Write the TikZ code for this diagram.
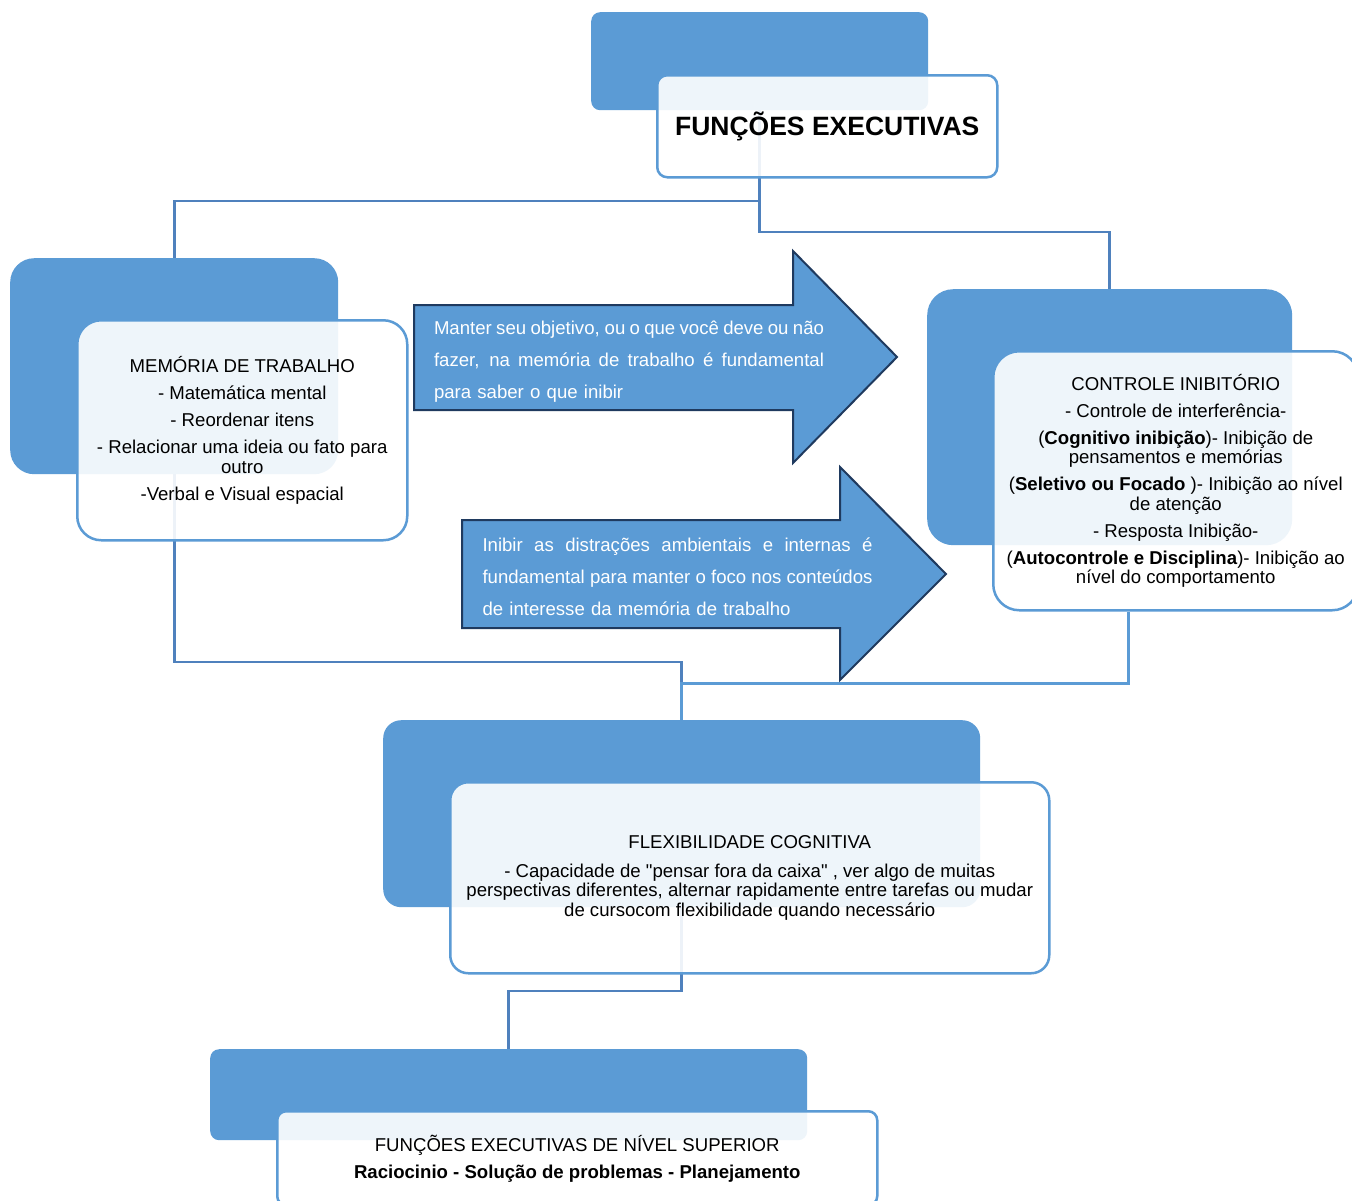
\documentclass[tikz,border=0pt]{standalone}
\usepackage{fontspec}
\setmainfont{Liberation Sans}[Ligatures=TeXOff]
\definecolor{boxblue}{HTML}{5B9BD5}
\definecolor{connblue}{HTML}{4F81BD}
\definecolor{arrowedge}{HTML}{1F3A5F}
\pgfdeclarelayer{background}
\pgfsetlayers{background,main}
\newcommand{\jline}[1]{\makebox[390pt][s]{\spaceskip=2pt plus 30pt\relax #1}}
\begin{document}
\begin{tikzpicture}[x=1pt,y=-1pt,
  bluebox/.style={fill=boxblue, draw=none, inner sep=0pt, anchor=north west},
  whitebox/.style={fill=white, fill opacity=0.9, text opacity=1, draw=boxblue, line width=2.5pt,
    anchor=north west, inner sep=0pt, align=center, font=\fontsize{18.6}{19.5}\selectfont},
  conn/.style={draw=connblue, line width=2.6pt},
  connlight/.style={draw=boxblue, line width=3pt},
  arrowshape/.style={fill=boxblue, draw=arrowedge, line width=2pt, line join=miter},
  arrowtext/.style={text=white, inner sep=0pt, align=left, text width=390pt,
    font=\fontsize{18.6}{32}\selectfont}]
\useasboundingbox (0,0) rectangle (1352,1200);
\clip (0,0) rectangle (1352,1200);

% blue back boxes
\node[bluebox, minimum width=337pt, minimum height=98pt, rounded corners=9pt] (tb) at (591,12) {};
\node[bluebox, minimum width=328pt, minimum height=216pt, rounded corners=24pt] (mb) at (10,258) {};
\node[bluebox, minimum width=365pt, minimum height=256pt, rounded corners=26pt] (cb) at (927,289) {};
\node[bluebox, minimum width=597pt, minimum height=187pt, rounded corners=18pt] (fb) at (383,720) {};
\node[bluebox, minimum width=597pt, minimum height=91pt, rounded corners=9pt] (bb) at (210,1049) {};

% white front boxes
\node[whitebox, minimum width=340pt, minimum height=102pt, rounded corners=10pt,
  font=\bfseries\fontsize{26.5}{30}\selectfont] (tw) at (656,74) {FUNÇÕES EXECUTIVAS};
\node[whitebox, minimum width=330pt, minimum height=220pt, rounded corners=24pt] (mw) at (76,319)
 {MEMÓRIA DE TRABALHO\\[7.5pt]
  - Matemática mental\\[7.5pt]
  - Reordenar itens\\[7.5pt]
  - Relacionar uma ideia ou fato para\\ outro\\[7.5pt]
  -Verbal e Visual espacial};
\node[whitebox, minimum width=365pt, minimum height=259pt, rounded corners=26pt] (cw) at (992,350)
 {CONTROLE INIBITÓRIO\\[7.5pt]
  - Controle de interferência-\\[7.5pt]
  (\textbf{Cognitivo inibição})- Inibição de\\ pensamentos e memórias\\[7.5pt]
  (\textbf{Seletivo ou Focado} )- Inibição ao nível\\ de atenção\\[7.5pt]
  - Resposta Inibição-\\[7.5pt]
  (\textbf{Autocontrole e Disciplina})- Inibição ao\\ nível do comportamento};
\node[whitebox, minimum width=599pt, minimum height=191pt, rounded corners=18pt] (fw) at (449,781)
 {FLEXIBILIDADE COGNITIVA\\[9pt]
  - Capacidade de "pensar fora da caixa" , ver algo de muitas\\
  perspectivas diferentes, alternar rapidamente entre tarefas ou mudar\\
  de cursocom flexibilidade quando necessário};
\node[whitebox, minimum width=600pt, minimum height=94pt, rounded corners=9pt] (bw) at (276,1110)
 {FUNÇÕES EXECUTIVAS DE NÍVEL SUPERIOR\\[7.5pt]
  \textbf{Raciocinio - Solução de problemas - Planejamento}};

% connectors (behind the boxes)
\begin{pgfonlayer}{background}
\fill[white] (0,0) rectangle (1352,1200);
\draw[conn] (tb.south) -- (tb.south |- 0,201) -| (mb.north);
\draw[conn] (tb.south) -- (tb.south |- 0,232) -| (cb.north);
\draw[conn] (mb.south) -- (mb.south |- 0,662) -| (fb.north);
\draw[connlight] (cw.south -| 1128,0) -- (1128,683) -| (fb.north);
\draw[conn] (fb.south) -- (fb.south |- 0,991) -| (bb.north);
\end{pgfonlayer}

% block arrows
\draw[arrowshape] (414,305) -- (793,305) -- (793,251) -- (897,357) -- (793,463) -- (793,410) -- (414,410) -- cycle;
\node[arrowtext] (a1t) at (629,362)
 {\jline{Manter seu objetivo, ou o que você deve ou não}\\
  \jline{fazer, na memória de trabalho é fundamental}\\
  para saber o que inibir};
\draw[arrowshape] (462,520) -- (840,520) -- (840,467) -- (946,574) -- (840,680) -- (840,628) -- (462,628) -- cycle;
\node[arrowtext] (a2t) at (677.5,577)
 {\jline{Inibir as distrações ambientais e internas é}\\
  \jline{fundamental para manter o foco nos conteúdos}\\
  de interesse da memória de trabalho};
\end{tikzpicture}
\end{document}
